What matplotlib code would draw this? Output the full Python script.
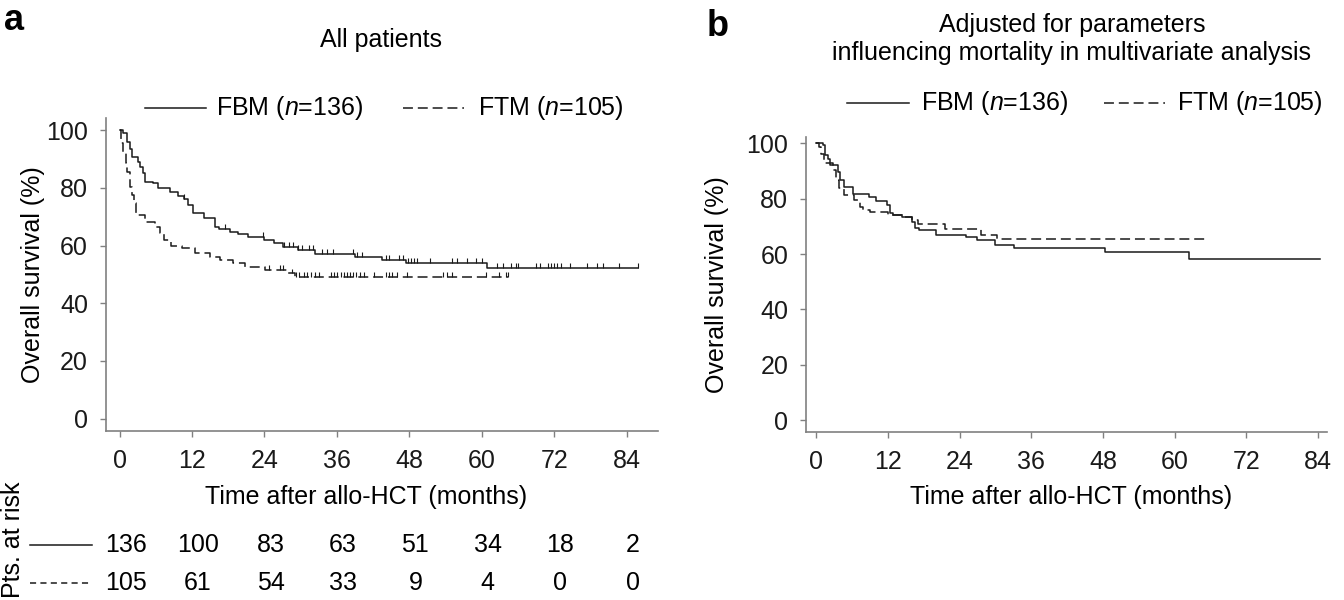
import numpy as np
import matplotlib
matplotlib.use("Agg")
from matplotlib import pyplot as plt
from matplotlib.lines import Line2D
from matplotlib.transforms import blended_transform_factory

plt.rcParams['font.family'] = ['Liberation Sans', 'DejaVu Sans']
plt.rcParams['mathtext.fontset'] = 'custom'
plt.rcParams['mathtext.rm'] = 'Liberation Sans'
plt.rcParams['mathtext.it'] = 'Liberation Sans:italic'

# --- panel a: Kaplan-Meier, all patients (step times in months, survival %) ---
fbm_a_t = [0, 0.6, 1.2, 1.7, 2.0, 3.1, 3.4, 3.8, 4.2, 5.6, 6.4, 8.4, 9.6, 10.6, 11.4, 12.2,
           14.0, 15.8, 16.5, 18.3, 19.7, 21.2, 23.9, 25.5, 27.0, 29.5, 32.3, 39.0, 43.5,
           47.4, 60.9, 85.9]
fbm_a_s = [100, 98.9, 95.9, 93.6, 90.7, 89.0, 87.3, 85.0, 82.1, 81.5, 79.8, 78.6, 77.1, 76.0,
           74.0, 71.1, 69.4, 66.5, 65.7, 64.8, 64.0, 63.0, 61.9, 60.7, 59.6, 58.4, 57.0, 56.1,
           54.9, 54.1, 52.1, 52.1]
ftm_a_t = [0, 0.2, 0.6, 1.0, 1.3, 1.7, 2.1, 2.4, 2.8, 4.2, 5.9, 6.7, 7.4, 8.5, 10.3, 12.5,
           15.0, 16.6, 18.8, 20.8, 24.1, 27.9, 29.1, 64.4]
ftm_a_s = [100, 95.4, 91.9, 88.5, 85.5, 80.3, 77.5, 74.6, 70.5, 68.2, 66.5, 64.2, 61.9, 59.8,
           59.0, 57.3, 56.1, 54.9, 53.8, 52.6, 51.5, 50.3, 49.2, 49.2]
fbm_a_cens = [10.6, 17.5, 23.7, 27.3, 28.0, 28.8, 29.6, 30.2, 31.3, 32.0, 33.5, 34.3, 35.4,
              38.6, 39.4, 40.2, 44.2, 44.6, 46.3, 46.9, 47.8, 48.3, 48.8, 49.3, 51.4, 55.0,
              55.9, 57.6, 59.1, 60.0, 62.6, 63.6, 64.8, 65.6, 66.0, 69.0, 69.6, 70.9, 71.5,
              71.9, 72.4, 73.1, 74.6, 77.5, 79.1, 80.1, 82.8, 85.9]
ftm_a_cens = [24.8, 26.6, 27.1, 28.6, 29.3, 29.8, 30.5, 31.1, 31.7, 32.4, 33.0, 35.0, 35.6,
              36.1, 36.6, 37.1, 37.6, 38.1, 38.6, 39.2, 39.8, 40.5, 42.1, 44.1, 44.6, 45.2,
              45.9, 47.6, 53.6, 54.2, 55.1, 60.7, 62.9, 64.0, 64.4]

# --- panel b: adjusted curves ---
fbm_b_t = [0, 1.1, 1.5, 1.9, 2.3, 3.6, 4.0, 4.6, 6.1, 8.9, 10.0, 11.9, 12.4, 12.8, 14.4,
           16.1, 16.6, 17.2, 20.0, 25.1, 27.0, 29.9, 33.1, 48.4, 62.4, 84.3]
fbm_b_s = [100, 99.4, 95.8, 94.2, 92.2, 89.7, 86.7, 84.1, 81.7, 80.7, 79.3, 77.7, 74.7, 74.1,
           73.3, 71.7, 69.3, 68.7, 66.9, 66.0, 65.1, 63.2, 62.1, 60.6, 58.2, 58.2]
ftm_b_t = [0, 0.4, 0.8, 1.3, 2.8, 3.3, 3.9, 4.6, 6.4, 7.3, 7.9, 9.0, 12.1, 14.3, 16.0, 17.1,
           21.6, 27.6, 30.2, 65.3]
ftm_b_s = [100, 98.8, 96.1, 92.8, 90.4, 86.7, 83.7, 81.3, 79.5, 77.1, 75.9, 75.3, 74.1, 73.3,
           72.3, 70.8, 69.0, 66.9, 65.3, 65.3]

# --- numbers at risk (panel a) ---
risk_times = [0, 12, 24, 36, 48, 60, 72, 84]
fbm_risk = [136, 100, 83, 63, 51, 34, 18, 2]
ftm_risk = [105, 61, 54, 33, 9, 4, 0, 0]

xticks = [0, 12, 24, 36, 48, 60, 72, 84]
yticks = [0, 20, 40, 60, 80, 100]

W, H = 1344, 600
LINE = '#1a1a1a'
AXC = '#808080'
FS = 18
LW = 1.1
DASH = (6.5, 3.2)


def fx(x):
    return x / W


def fy(y):
    return 1 - y / H


def step_value(t, s, when):
    i = np.searchsorted(t, when, side='right') - 1
    return np.array(s)[np.clip(i, 0, len(s) - 1)]


def style_axes(ax, xlim, ylim):
    ax.set_xlim(*xlim)
    ax.set_ylim(*ylim)
    for side in ['top', 'right']:
        ax.spines[side].set_visible(False)
    for side in ['left', 'bottom']:
        ax.spines[side].set_color(AXC)
        ax.spines[side].set_linewidth(1.2)
    ax.set_xticks(xticks)
    ax.set_yticks(yticks)
    ax.tick_params(direction='out', length=4.3, width=1.0, color=AXC,
                   labelsize=FS, labelcolor='#1a1a1a', pad=8.5)


fig = plt.figure(figsize=(W / 100, H / 100), dpi=100)

# panel a
ax_a = fig.add_axes([fx(105.7), fy(431), fx(658 - 105.7), (431 - 118) / H])
style_axes(ax_a, (-2.3, 89.2), (-4.3, 104.2))
ax_a.step(fbm_a_t, fbm_a_s, where='post', color=LINE, lw=LW)
ax_a.step(ftm_a_t, ftm_a_s, where='post', color=LINE, lw=LW, dashes=DASH)
yc = step_value(fbm_a_t, fbm_a_s, fbm_a_cens)
ax_a.vlines(fbm_a_cens, yc, yc + 1.7, color=LINE, lw=0.8)
yc = step_value(ftm_a_t, ftm_a_s, ftm_a_cens)
ax_a.vlines(ftm_a_cens, yc, yc + 1.7, color=LINE, lw=0.8)

# panel b
ax_b = fig.add_axes([fx(806), fy(432), fx(1327 - 806), (432 - 137) / H])
style_axes(ax_b, (-1.7, 85.5), (-4.3, 102.3))
ax_b.step(fbm_b_t, fbm_b_s, where='post', color=LINE, lw=LW)
ax_b.step(ftm_b_t, ftm_b_s, where='post', color=LINE, lw=LW, dashes=DASH)

# axis labels and titles
fig.text(fx(366), fy(497), 'Time after allo-HCT (months)', ha='center', va='center', fontsize=FS)
fig.text(fx(1071), fy(497), 'Time after allo-HCT (months)', ha='center', va='center', fontsize=FS)
fig.text(fx(33), fy(275), 'Overall survival (%)', rotation=90, ha='center', va='center', fontsize=FS)
fig.text(fx(717), fy(285), 'Overall survival (%)', rotation=90, ha='center', va='center', fontsize=FS)
fig.text(fx(381), fy(40), 'All patients', ha='center', va='center', fontsize=FS)
fig.text(fx(1072), fy(39), 'Adjusted for parameters\ninfluencing mortality in multivariate analysis',
         ha='center', va='center', fontsize=FS, linespacing=1.2)
fig.text(fx(4), fy(30), 'a', ha='left', va='baseline', fontsize=26, fontweight='bold')
fig.text(fx(707), fy(36), 'b', ha='left', va='baseline', fontsize=26, fontweight='bold')

# legends
legends = [
    (108, (145, 206), 216, (403, 464), 478),
    (103, (847, 909), 921, (1104, 1165), 1177),
]
for y, solid, tx1, dashed, tx2 in legends:
    fig.add_artist(Line2D([fx(solid[0]), fx(solid[1])], [fy(y), fy(y)], color=LINE, lw=LW))
    fig.add_artist(Line2D([fx(dashed[0]), fx(dashed[1])], [fy(y), fy(y)], color=LINE, lw=LW,
                          dashes=DASH))
    fig.text(fx(tx1), fy(y), 'FBM ($\\mathit{n}$=136)', ha='left', va='center', fontsize=FS)
    fig.text(fx(tx2), fy(y), 'FTM ($\\mathit{n}$=105)', ha='left', va='center', fontsize=FS)

# numbers at risk table
trans = blended_transform_factory(ax_a.transData, fig.transFigure)
for y, counts, dash in [(545, fbm_risk, None), (583, ftm_risk, (4.0, 2.8))]:
    kw = {} if dash is None else {'dashes': dash}
    fig.add_artist(Line2D([fx(30), fx(92)], [fy(y), fy(y)], color=LINE, lw=LW, **kw))
    for t, n in zip(risk_times, counts):
        fig.text(t + 1.0, fy(y), str(n), transform=trans, ha='center', va='center', fontsize=FS)
fig.text(fx(13), fy(598), 'Pts. at risk', rotation=90, ha='center', va='bottom', fontsize=FS)

fig.savefig('out.png', dpi=100)
